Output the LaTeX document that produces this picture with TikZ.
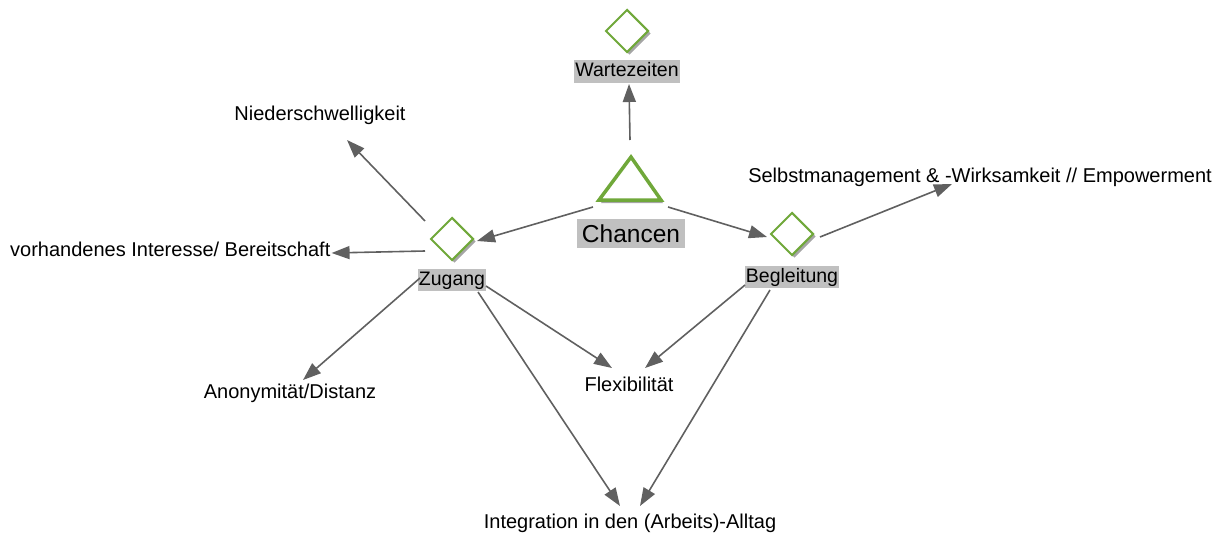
\documentclass[tikz,border=0pt]{standalone}
\usepackage{fontspec}
\setmainfont{Liberation Sans}
\usetikzlibrary{arrows.meta,shapes.geometric,shadows}

\definecolor{leaf}{RGB}{112,168,58}
\definecolor{linkgray}{RGB}{96,96,96}
\definecolor{tagfill}{RGB}{192,192,192}
\definecolor{shade}{RGB}{165,165,165}

\begin{document}
\begin{tikzpicture}[x=1pt,y=-1pt,
  marker/.style={diamond, draw=leaf, line width=2pt, fill=white,
    minimum width=43pt, minimum height=43pt, inner sep=0pt,
    drop shadow={shadow xshift=2.5pt, shadow yshift=-2.5pt, fill=shade, opacity=1}},
  tag/.style={fill=tagfill, inner xsep=1pt, inner ysep=2.5pt,
    text height=14pt, text depth=3.5pt, anchor=base,
    font=\fontsize{19.5}{22}\selectfont},
  plain/.style={inner sep=0pt, anchor=base, font=\fontsize{20}{24}\selectfont},
  link/.style={draw=linkgray, line width=1.6pt,
    -{Triangle[length=18pt,width=13pt]}}
]
% canvas
\useasboundingbox (0,0) rectangle (1225,535);

% central triangle with its label
\coordinate (tri) at (630,185);
\filldraw[draw=leaf, fill=white, line width=3.5pt,
  drop shadow={shadow xshift=2pt, shadow yshift=-3pt, fill=shade, opacity=1}]
  ([shift={(1,-28)}]tri) -- ([shift={(-31,15)}]tri) -- ([shift={(31,15)}]tri) -- cycle;
\node[tag, font=\fontsize{24.5}{28}\selectfont, inner xsep=4.5pt, inner ysep=5.5pt,
  text height=18pt, text depth=0pt] (clbl) at (631,242) {Chancen};

% diamond markers with their labels
\node[marker] (wdia) at (627,31) {};
\node[tag] (wlbl) at (627,77) {Wartezeiten};
\node[marker] (zdia) at (452,239) {};
\node[tag] (zlbl) at (452,285) {Zugang};
\node[marker] (bdia) at (792,234) {};
\node[tag] (blbl) at (792,282) {Begleitung};

% plain topics
\node[plain] (nied) at (320,120) {Niederschwelligkeit};
\node[plain, anchor=base west] (vorh) at (10,256) {vorhandenes Interesse/ Bereitschaft};
\node[plain] (anon) at (290,398) {Anonymität/Distanz};
\node[plain] (flex) at (629,391) {Flexibilität};
\node[plain] (integ) at (630,528) {Integration in den (Arbeits)-Alltag};
\node[plain] (selbst) at (980,182) {Selbstmanagement \& -Wirksamkeit // Empowerment};

% connectors
\draw[link] ([shift={(0,-45)}]tri) -- ([shift={(2,7)}]wlbl.base);
\draw[link] ([shift={(-37,22)}]tri) -- ([shift={(25,2)}]zdia.center);
\draw[link] ([shift={(38,22)}]tri) -- ([shift={(-25,3)}]bdia.center);
\draw[link] ([shift={(28,3)}]bdia.center) -- ([shift={(-28,2)}]selbst.base);
\draw[link] ([shift={(-27,-18)}]zdia.center) -- ([shift={(27,20)}]nied.base);
\draw[link] ([shift={(-27,12)}]zdia.center) -- ([shift={(1,-3)}]vorh.base east);
\draw[link] ([shift={(-32,-7)}]zlbl.base) -- ([shift={(13,-18)}]anon.base);
\draw[link] ([shift={(34,1)}]zlbl.base) -- ([shift={(-17,-23)}]flex.base);
\draw[link] ([shift={(26,7)}]zlbl.base) -- ([shift={(-10,-22)}]integ.base);
\draw[link] ([shift={(-47,3)}]blbl.base) -- ([shift={(16,-23)}]flex.base);
\draw[link] ([shift={(-22,8)}]blbl.base) -- ([shift={(10,-22)}]integ.base);
\end{tikzpicture}
\end{document}
